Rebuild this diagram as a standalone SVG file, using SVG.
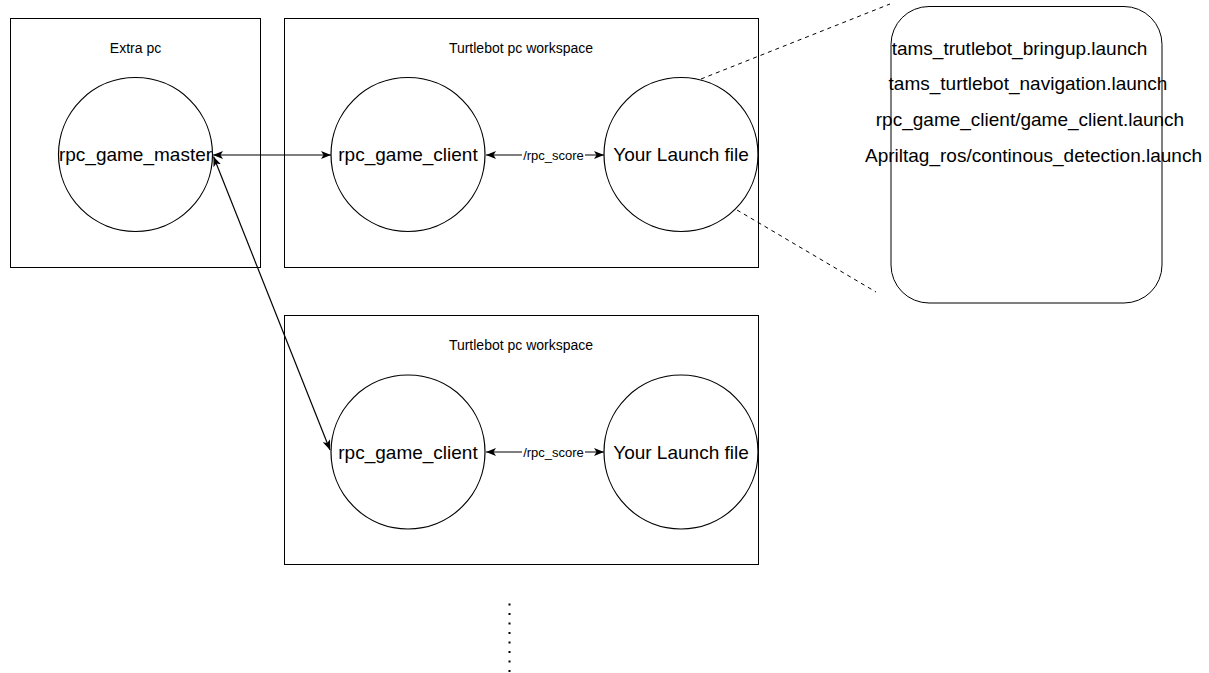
<svg xmlns="http://www.w3.org/2000/svg" width="1209" height="673" viewBox="0 0 1209 673">
  <style>
    .box { fill: #ffffff; stroke: #000000; stroke-width: 1; }
    .node { fill: #ffffff; stroke: #000000; stroke-width: 1.2; }
    .title { font-family: "Liberation Sans", Arial, sans-serif; font-size: 14px; fill: #000000; text-anchor: middle; }
    .label { font-family: "Liberation Sans", Arial, sans-serif; font-size: 19px; fill: #000000; text-anchor: middle; }
    .edge { stroke: #000000; stroke-width: 1.2; fill: none; }
    .edge-label { font-family: "Liberation Sans", Arial, sans-serif; font-size: 13px; fill: #000000; text-anchor: middle; }
    .zoom-line { stroke: #000000; stroke-width: 1; stroke-dasharray: 4 4; fill: none; }
    .more { stroke: #000000; stroke-width: 2; stroke-dasharray: 2 7.5; fill: none; }
  </style>
  <defs>
    <marker id="arrow" viewBox="0 0 10 8" refX="10" refY="4" markerWidth="10" markerHeight="8" markerUnits="userSpaceOnUse" orient="auto-start-reverse">
      <path d="M0,0 L10,4 L0,8 L2.5,4 Z" fill="#000000"/>
    </marker>
  </defs>

  <!-- containers -->
  <g id="extra-pc">
    <rect class="box" x="10.5" y="18.5" width="250" height="249"/>
    <text class="title" x="135.5" y="53">Extra pc</text>
  </g>
  <g id="workspace-1">
    <rect class="box" x="284.5" y="18.5" width="474" height="249"/>
    <text class="title" x="521" y="53">Turtlebot pc workspace</text>
  </g>
  <g id="workspace-2">
    <rect class="box" x="284.5" y="315.5" width="474" height="249"/>
    <text class="title" x="521" y="350">Turtlebot pc workspace</text>
  </g>

  <!-- nodes -->
  <g id="game-master">
    <circle class="node" cx="135.5" cy="154.5" r="77"/>
    <text class="label" x="135.5" y="161">rpc_game_master</text>
  </g>
  <g id="game-client-1">
    <circle class="node" cx="408" cy="154.5" r="77"/>
    <text class="label" x="408" y="161">rpc_game_client</text>
  </g>
  <g id="launch-file-1">
    <circle class="node" cx="681" cy="154.5" r="77"/>
    <text class="label" x="681" y="161">Your Launch file</text>
  </g>
  <g id="game-client-2">
    <circle class="node" cx="408" cy="452" r="77"/>
    <text class="label" x="408" y="458.5">rpc_game_client</text>
  </g>
  <g id="launch-file-2">
    <circle class="node" cx="681" cy="452" r="77"/>
    <text class="label" x="681" y="458.5">Your Launch file</text>
  </g>

  <!-- launch file contents -->
  <g id="launch-contents">
    <rect class="box" x="891" y="6.5" width="271" height="296.5" rx="38" ry="38"/>
    <text class="label" x="1019.5" y="55">tams_trutlebot_bringup.launch</text>
    <text class="label" x="1028" y="90">tams_turtlebot_navigation.launch</text>
    <text class="label" x="1030" y="126">rpc_game_client/game_client.launch</text>
    <text class="label" x="1033.5" y="161.5">Apriltag_ros/continous_detection.launch</text>
  </g>

  <!-- connectors -->
  <g id="connectors">
    <line class="edge" x1="213" y1="155" x2="331" y2="155" marker-start="url(#arrow)" marker-end="url(#arrow)"/>
    <line class="edge" x1="213.5" y1="156.5" x2="330" y2="450" marker-start="url(#arrow)" marker-end="url(#arrow)"/>
    <line class="edge" x1="486" y1="155" x2="604" y2="155" marker-start="url(#arrow)" marker-end="url(#arrow)"/>
    <rect x="522" y="147" width="63" height="16" fill="#ffffff"/>
    <text class="edge-label" x="553.5" y="159.5">/rpc_score</text>
    <line class="edge" x1="486" y1="452" x2="604" y2="452" marker-start="url(#arrow)" marker-end="url(#arrow)"/>
    <rect x="522" y="444" width="63" height="16" fill="#ffffff"/>
    <text class="edge-label" x="553.5" y="456.5">/rpc_score</text>
    <line class="zoom-line" x1="701" y1="79" x2="890" y2="4"/>
    <line class="zoom-line" x1="737" y1="210" x2="876" y2="292"/>
    <line class="more" x1="509.5" y1="603.5" x2="509.5" y2="673"/>
  </g>
</svg>
